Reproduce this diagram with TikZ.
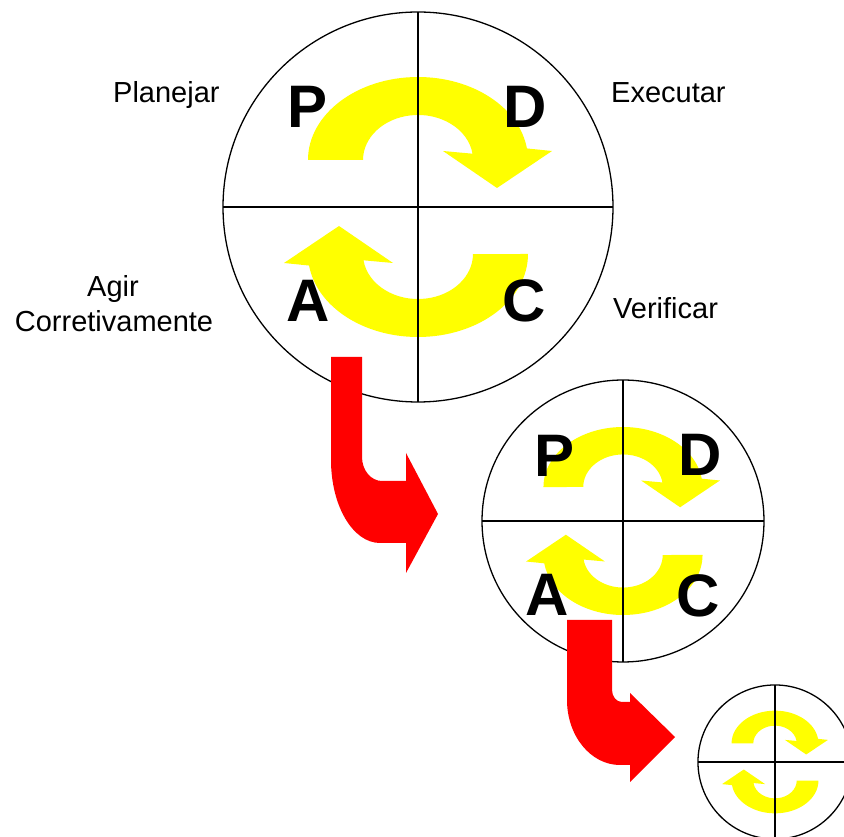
\documentclass[tikz,border=0pt]{standalone}
\usepackage{fontspec}
\setmainfont{Liberation Sans}
\definecolor{pdcayellow}{RGB}{255,255,0}
\definecolor{pdcared}{RGB}{255,0,0}

\tikzset{
  ringline/.style  = {draw=black, line width=1.3pt},
  crossline/.style = {draw=black, line width=1.8pt},
  yellowturn/.style = {fill=pdcayellow},
  redbend/.style   = {fill=pdcared},
  word/.style      = {font=\fontsize{29}{35}\selectfont, inner sep=0pt},
  letter/.style    = {font=\fontsize{60}{60}\selectfont\bfseries, inner sep=0pt},
  pdca/.pic = {
    \fill[yellowturn] (-110,47) arc[start angle=180, end angle=8, x radius=110, y radius=83]
      -- (134,56) -- (79,19) -- (25,56) -- (54.5,53.3)
      arc[start angle=8, end angle=180, x radius=55, y radius=45] -- cycle;
    \fill[yellowturn, rotate=180] (-110,47) arc[start angle=180, end angle=8, x radius=110, y radius=83]
      -- (134,56) -- (79,19) -- (25,56) -- (54.5,53.3)
      arc[start angle=8, end angle=180, x radius=55, y radius=45] -- cycle;
    \draw[crossline] (-195,0) -- (195,0) (0,195) -- (0,-195);
    \draw[ringline] (0,0) circle[radius=195];
  }
}

\begin{document}
\begin{tikzpicture}[x=1pt, y=1pt]
\clip (0,0) rectangle (844,836);

\pic at (418,629) {pdca};
\pic[scale=0.723] at (623,315) {pdca};
\pic[scale=0.395] at (775,74) {pdca};

\node[letter] (p1) at (308,729) {P};
\node[letter] (d1) at (525,729) {D};
\node[letter] (a1) at (308,535) {A};
\node[letter] (c1) at (524,535) {C};

\node[letter] (p2) at (555,380) {P};
\node[letter] (d2) at (700,381) {D};
\node[letter] (a2) at (547,241) {A};
\node[letter] (c2) at (698,240) {C};

\node[word, anchor=base west] (planejar) at (113,733) {Planejar};
\node[word, anchor=base west] (executar) at (611,733) {Executar};
\node[word, anchor=base west] (verificar) at (613,517) {Verificar};
\node[word, anchor=base] (agir) at (113,539) {Agir};
\node[word, anchor=base] (corret) at (114,504) {Corretivamente};

\fill[redbend] (331,479) -- (331,376)
  arc[start angle=180, end angle=270, x radius=49, y radius=83]
  -- (406,293) -- (406,263) -- (438,322) -- (406,383) -- (406,355) -- (382,355)
  arc[start angle=270, end angle=180, x radius=20, y radius=24] -- (362,479) -- cycle;

\fill[redbend] (567,216) -- (567,136)
  arc[start angle=180, end angle=270, x radius=53, y radius=65]
  -- (630,71) -- (630,54) -- (675,99) -- (630,143) -- (630,134) -- (622,134)
  arc[start angle=270, end angle=180, x radius=10, y radius=12] -- (612,216) -- cycle;
\end{tikzpicture}
\end{document}
